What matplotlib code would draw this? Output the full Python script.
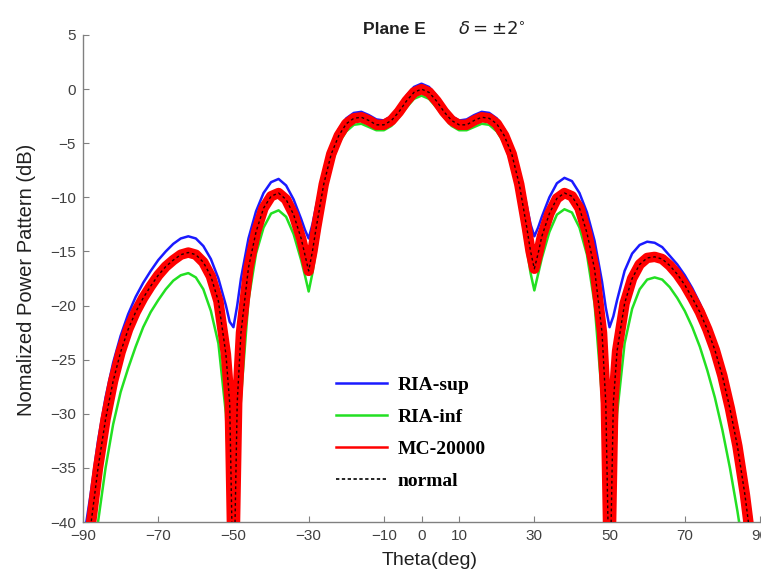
import matplotlib
matplotlib.use("Agg")
import matplotlib.pyplot as plt
from matplotlib.lines import Line2D

# ---------------- data ----------------
theta = [-90, -88, -86, -84, -82, -80, -78, -76, -74, -72, -70, -68, -66, -64, -62, -60,
         -58, -56, -54, -52, -51, -50, -49, -48, -46, -44, -42, -40, -38, -36, -34, -32,
         -31, -30, -29, -28, -26, -24, -22, -20, -18, -16, -14, -12, -10, -8, -6, -4, -2,
         0,
         2, 4, 6, 8, 10, 12, 14, 16, 18, 20, 22, 24, 26, 28, 29, 30, 31, 32, 34, 36, 38,
         40, 42, 44, 46, 48, 49, 50, 51, 52, 54, 56, 58, 60, 62, 64, 66, 68, 70, 72, 74,
         76, 78, 80, 82, 84, 86, 88, 90]

normal = [-45, -40.5, -35, -30.5, -27, -24.3, -22.2, -20.6, -19.3, -18.2, -17.2, -16.4, -15.8, -15.3, -15.1, -15.3,
          -16.0, -17.3, -19.6, -24.5, -29, -48, -29, -22.5, -16.5, -13.2, -11.0, -9.9, -9.6, -10.2, -11.6, -13.8,
          -15.3, -16.8, -15.0, -12.8, -8.8, -6.0, -4.3, -3.2, -2.7, -2.6, -2.9, -3.3, -3.3, -2.9, -2.1, -1.1, -0.3,
          0.0,
          -0.3, -1.1, -2.1, -2.9, -3.3, -3.3, -2.9, -2.6, -2.7, -3.2, -4.3, -6.0, -8.8, -12.8, -15.0, -16.6, -15.2, -13.6, -11.5, -10.1, -9.6,
          -9.9, -11.0, -13.3, -16.6, -22.5, -29, -48, -29, -24.2, -19.8, -17.5, -16.2, -15.6, -15.5, -15.7, -16.3, -17.1, -18.1, -19.3, -20.6,
          -22.2, -24.1, -26.5, -29.5, -33, -37.5, -43, -48]

mc_20000 = [-45, -40.5, -35, -30.5, -27, -24.3, -22.2, -20.6, -19.3, -18.2, -17.2, -16.4, -15.8, -15.3, -15.1, -15.3,
            -16.0, -17.3, -19.6, -24.5, -29, -48, -29, -22.5, -16.5, -13.2, -11.0, -9.9, -9.6, -10.2, -11.6, -13.8,
            -15.3, -16.8, -15.0, -12.8, -8.8, -6.0, -4.3, -3.2, -2.7, -2.6, -2.9, -3.3, -3.3, -2.9, -2.1, -1.1, -0.3,
            0.0,
            -0.3, -1.1, -2.1, -2.9, -3.3, -3.3, -2.9, -2.6, -2.7, -3.2, -4.3, -6.0, -8.8, -12.8, -15.0, -16.6, -15.2, -13.6, -11.5, -10.1, -9.6,
            -9.9, -11.0, -13.3, -16.6, -22.5, -29, -48, -29, -24.2, -19.8, -17.5, -16.2, -15.6, -15.5, -15.7, -16.3, -17.1, -18.1, -19.3, -20.6,
            -22.2, -24.1, -26.5, -29.5, -33, -37.5, -43, -48]

ria_sup = [-42, -37.5, -32.5, -28.5, -25.3, -22.8, -20.8, -19.2, -17.9, -16.8, -15.8, -15.0, -14.3, -13.8, -13.6, -13.8,
           -14.5, -15.7, -17.5, -20.0, -21.5, -22.0, -20.0, -17.5, -13.8, -11.3, -9.6, -8.6, -8.3, -8.9, -10.2, -12.0,
           -13.0, -13.8, -12.5, -10.8, -7.6, -5.3, -3.7, -2.7, -2.2, -2.1, -2.4, -2.8, -2.9, -2.5, -1.6, -0.6, 0.2,
           0.5,
           0.2, -0.6, -1.6, -2.5, -2.9, -2.8, -2.4, -2.1, -2.2, -2.7, -3.7, -5.3, -7.6, -10.8, -12.5, -13.6, -12.8, -11.8, -10.0, -8.7, -8.2,
           -8.5, -9.6, -11.4, -14.0, -17.8, -20.2, -22.0, -21.0, -19.5, -16.8, -15.2, -14.4, -14.1, -14.2, -14.6, -15.4, -16.2, -17.2, -18.4, -19.8,
           -21.4, -23.3, -25.5, -28.3, -31.5, -35.5, -40.5, -45]

ria_inf = [-49, -45, -40, -35, -31, -28, -25.8, -23.8, -22.0, -20.6, -19.5, -18.5, -17.7, -17.2, -17.0, -17.4,
           -18.5, -20.5, -23.5, -30, -38, -50, -38, -28.5, -19.5, -15.2, -12.8, -11.5, -11.2, -11.8, -13.4, -15.8,
           -17.2, -18.7, -17.0, -14.8, -10.3, -7.0, -5.0, -3.9, -3.3, -3.2, -3.5, -3.8, -3.8, -3.4, -2.6, -1.7, -0.9,
           -0.6,
           -0.9, -1.7, -2.6, -3.4, -3.8, -3.8, -3.5, -3.2, -3.3, -3.9, -5.0, -7.0, -10.3, -14.8, -17.0, -18.6, -17.1, -15.6, -13.2, -11.6, -11.1,
           -11.4, -12.8, -15.3, -19.8, -28.5, -38, -50, -38, -30, -23.5, -20.3, -18.5, -17.6, -17.4, -17.6, -18.3, -19.3, -20.5, -22, -23.8,
           -26, -28.5, -31.5, -35, -39, -43.5, -48, -52]

xticks = [-90, -70, -50, -30, -10, 0, 10, 30, 50, 70, 90]
yticks = [5, 0, -5, -10, -15, -20, -25, -30, -35, -40]
legend_labels = ["RIA-sup", "RIA-inf", "MC-20000", "normal"]

# ---------------- figure ----------------
W, H = 761, 577
fig = plt.figure(figsize=(W / 100, H / 100), dpi=100)
ax = fig.add_axes([83 / W, 1 - 522 / H, (760 - 83) / W, (522 - 35) / H])

c_blue = "#1a1aff"
c_green = "#22e022"
c_red = "#ff0000"

ax.plot(theta, ria_inf, color=c_green, lw=1.8, zorder=2)
ax.plot(theta, ria_sup, color=c_blue, lw=1.8, zorder=3)
ax.plot(theta, mc_20000, color=c_red, lw=7.5, zorder=4, solid_capstyle="butt")
ax.plot(theta, normal, color="#200000", lw=1.0, ls=(0, (2, 2)), zorder=5)

ax.set_xlim(-90, 90)
ax.set_ylim(-40, 5)
ax.set_xticks(xticks)
ax.set_yticks(yticks)
ax.set_xticklabels([str(t).replace("-", "\u2212") for t in xticks])
ax.set_yticklabels([str(t).replace("-", "\u2212") for t in yticks])

sans = "Liberation Sans"
for lab in ax.get_xticklabels() + ax.get_yticklabels():
    lab.set_fontfamily(sans)
    lab.set_fontsize(11)
    lab.set_color("#404040")

ax.tick_params(direction="in", length=4, width=0.8, color="#808080", pad=5)
for s in ["top", "right"]:
    ax.spines[s].set_visible(False)
for s in ["left", "bottom"]:
    ax.spines[s].set_color("#808080")
    ax.spines[s].set_linewidth(1.0)

ax.set_xlabel("Theta(deg)", fontfamily=sans, fontsize=14, color="#202020")
ax.xaxis.set_label_coords((430 - 83) / 677, (522 - 552) / 487)
ax.set_ylabel("Nomalized Power Pattern (dB)", fontfamily=sans, fontsize=14.5, color="#202020")
ax.yaxis.set_label_coords((36 - 83) / 677, (522 - 280) / 487)

fig.text(363 / W, 1 - 30 / H, "Plane E", fontfamily=sans, fontweight="bold",
         fontsize=12.5, color="#202020", ha="left", va="center")
fig.text(458 / W, 1 - 30 / H, r"$\delta=\pm2^{\circ}$", fontsize=13,
         color="#202020", ha="left", va="center")

handles = [Line2D([], [], color=c_blue, lw=1.8),
           Line2D([], [], color=c_green, lw=1.8),
           Line2D([], [], color=c_red, lw=1.8),
           Line2D([], [], color="black", lw=1.2, ls=(0, (2, 1.5)))]
leg = ax.legend(handles, legend_labels, loc="upper left",
                bbox_to_anchor=((336 - 83) / 677, (522 - 376) / 487),
                frameon=False, borderpad=0, borderaxespad=0,
                handlelength=2.6, handletextpad=0.55, labelspacing=0.75,
                prop={"family": "Liberation Serif", "weight": "bold", "size": 14})

fig.savefig("out.png", dpi=100)
